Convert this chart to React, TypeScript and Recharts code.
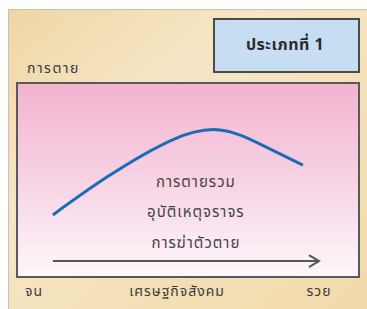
import React from 'react'
import { LineChart, Line, XAxis, YAxis, ReferenceArea, ReferenceLine } from 'recharts'

// curve: position along the socio-economic axis vs. death level (0..100)
const curveX = [10.5, 26.3, 45.3, 59.4, 71.1, 83.6]
const curveY = [32.0, 51.5, 70.6, 75.8, 68.5, 57.7]

const bottomTicks = [5, 46.8, 88.3]
const bottomLabels = ['จน', 'เศรษฐกิจสังคม', 'รวย']
const causeLabels = ['การตายรวม', 'อุบัติเหตุจราจร', 'การฆ่าตัวตาย']
const causeY = [49, 33.5, 17.5]

const arrowFrom = 10.5
const arrowTo = 88.3
const arrowY = 8.2

const data = curveX.map((x, i) => ({ x, y: curveY[i] }))

const FONT = '"Noto Sans Thai", "Noto Sans", "DejaVu Sans", sans-serif'

const ArrowShape = (props: any) => {
  const { x1, y1, x2, y2 } = props
  if (x1 == null) return null
  return (
    <g stroke="#555" strokeWidth={2} fill="none">
      <line x1={x1} y1={y1} x2={x2} y2={y2} />
      <polyline points={`${x2 - 10},${y2 - 6} ${x2},${y2} ${x2 - 10},${y2 + 6}`} />
    </g>
  )
}

const BottomTick = (props: any) => {
  const { x, y, payload, index } = props
  return (
    <text x={x} y={y + 11} textAnchor="middle" fontSize={14} letterSpacing={1} fill="#3a3a3a" fontFamily={FONT}>
      {bottomLabels[index] ?? payload.value}
    </text>
  )
}

export default function App() {
  return (
    <div style={{ position: 'absolute', left: 0, top: 0, width: 367, height: 309, background: '#fff' }}>
      <svg width={367} height={309} style={{ position: 'absolute', left: 0, top: 0 }}>
        <defs>
          <linearGradient id="beige" x1="0" y1="0" x2="1" y2="1">
            <stop offset="0%" stopColor="#efd6a6" />
            <stop offset="35%" stopColor="#f6e6c6" />
            <stop offset="70%" stopColor="#f3dfb6" />
            <stop offset="100%" stopColor="#f1d9aa" />
          </linearGradient>
        </defs>
        <rect x={8.5} y={9.5} width={360} height={302} fill="url(#beige)" stroke="#c8c0b0" />
        <rect x={214} y={19} width={145} height={53} fill="#c6ddf2" stroke="#4a4a4a" strokeWidth={2} />
        <text x={285} y={50} textAnchor="middle" fontSize={16} fontWeight="bold" letterSpacing={0.5} fill="#2a2a2a" fontFamily={FONT}>
          ประเภทที่ 1
        </text>
        <text x={27} y={73} fontSize={14} letterSpacing={1.5} fill="#3a3a3a" fontFamily={FONT}>
          การตาย
        </text>
      </svg>
      <div style={{ position: 'absolute', left: 0, top: 0 }}>
        <LineChart width={367} height={309} data={data} margin={{ top: 83, right: 8, bottom: 0, left: 17 }}>
          <defs>
            <linearGradient id="pink" x1="0" y1="0" x2="0" y2="1">
              <stop offset="0%" stopColor="#f2b3cf" />
              <stop offset="55%" stopColor="#f8d6e6" />
              <stop offset="100%" stopColor="#fdf7fb" />
            </linearGradient>
          </defs>
          <XAxis
            dataKey="x"
            type="number"
            domain={[0, 100]}
            ticks={bottomTicks}
            tickLine={false}
            axisLine={false}
            tick={<BottomTick />}
            height={32}
          />
          <YAxis type="number" domain={[0, 100]} hide width={0} />
          <ReferenceArea x1={0} x2={100} y1={0} y2={100} fill="url(#pink)" fillOpacity={1} stroke="#5a5a5a" strokeWidth={2} />
          <ReferenceLine
            segment={[{ x: arrowFrom, y: arrowY }, { x: arrowTo, y: arrowY }]}
            shape={<ArrowShape />}
          />
          {causeLabels.map((label, i) => (
            <ReferenceLine
              key={label}
              segment={[{ x: 52.3, y: causeY[i] }, { x: 52.3, y: causeY[i] }]}
              stroke="none"
              label={{ value: label, position: 'center', fontSize: 15, letterSpacing: 1, fill: '#444', fontFamily: FONT }}
            />
          ))}
          <Line
            type="natural"
            dataKey="y"
            stroke="#1b6db3"
            strokeWidth={3}
            dot={false}
            isAnimationActive={false}
          />
        </LineChart>
      </div>
    </div>
  )
}
